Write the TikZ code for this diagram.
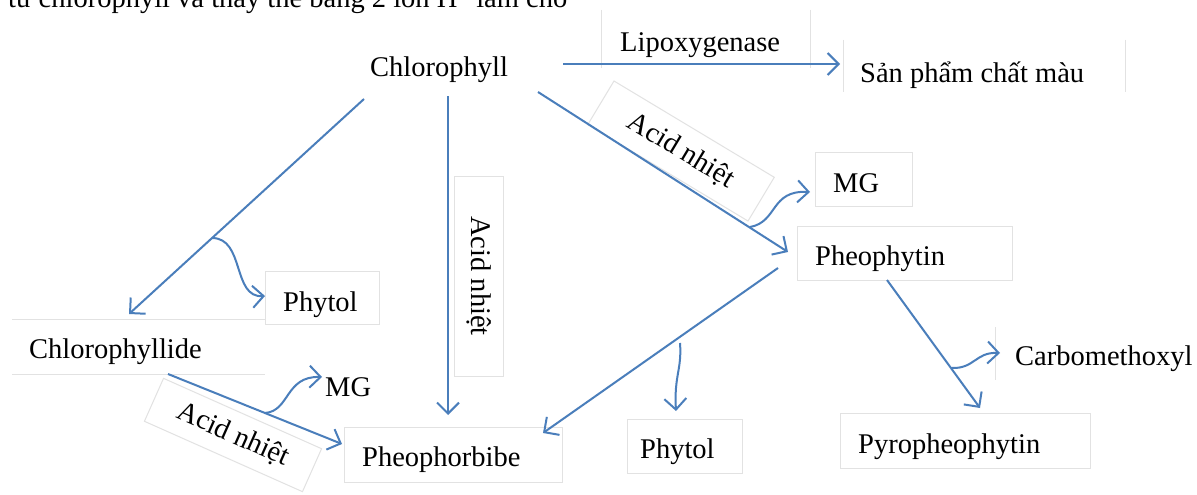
\documentclass[tikz,border=0pt]{standalone}
\usepackage{fontspec}
\setmainfont{Liberation Serif}
\usetikzlibrary{arrows.meta,calc}
\definecolor{arr}{HTML}{4A7EBB}
\definecolor{frame}{HTML}{E2E2E2}
\begin{document}
\begin{tikzpicture}[x=1pt,y=-1pt,
  lbl/.style={inner sep=0pt,font=\fontsize{28.5}{34}\selectfont},
  conn/.style={draw=arr,line width=2pt,-{Straight Barb[length=11pt,width=22pt]}},
  fr/.style={draw=frame,line width=1pt},
  rbox/.style={draw=frame,line width=1pt,inner sep=0pt,font=\fontsize{28.5}{34}\selectfont}]
\useasboundingbox (0,0) rectangle (1197,495);
\fill[white] (0,0) rectangle (1197,495);
% texts
\node[lbl,anchor=base west] (top) at (8,8) {từ chlorophyll và thay thế bằng 2 ion H\textsuperscript{+} làm cho};
\node[lbl,anchor=base west] (chl) at (370,77) {Chlorophyll};
\node[lbl,anchor=base west] (lipo) at (620,52) {Lipoxygenase};
\node[lbl,anchor=base west] (san) at (860,82) {Sản phẩm chất màu};
\node[lbl,anchor=base west] (mg1) at (833,192) {MG};
\node[lbl,anchor=base west] (pheo) at (815,265) {Pheophytin};
\node[lbl,anchor=base west] (phy1) at (283,311) {Phytol};
\node[lbl,anchor=base west] (chlide) at (29,358) {Chlorophyllide};
\node[lbl,anchor=base west] (mg2) at (325,396) {MG};
\node[lbl,anchor=base west] (carb) at (1015,365) {Carbomethoxyl};
\node[lbl,anchor=base west] (pbb) at (362,466) {Pheophorbibe};
\node[lbl,anchor=base west] (phy2) at (640,458) {Phytol};
\node[lbl,anchor=base west] (pyro) at (858,453) {Pyropheophytin};
% faint frames
\draw[fr] (601,10) -- (601,68) (810,10) -- (810,68);
\draw[fr] (843,40) -- (843,92) (1125,40) -- (1125,92);
\draw[fr] (815,152) rectangle (912,206);
\draw[fr] (797,226) rectangle (1012,280);
\draw[fr] (265,271) rectangle (379,324);
\draw[fr] (12,319) -- (265,319) (12,374) -- (265,374);
\draw[fr] (995,327) -- (995,380);
\draw[fr] (344,427) rectangle (562,482);
\draw[fr] (627,419) rectangle (742,473);
\draw[fr] (840,413) rectangle (1090,468);
% rotated labels
\node[rbox,rotate=-31,minimum width=187pt,minimum height=51pt] (acid1) at (681,151) {Acid nhiệt};
\node[rbox,rotate=-90,minimum width=200pt,minimum height=49pt] (acid2) at (479,276) {Acid nhiệt};
\node[rbox,rotate=-24,minimum width=173pt,minimum height=47pt] (acid3) at (233,435) {Acid nhiệt};
% connector end points
\coordinate (chlE) at (563,64);   \coordinate (sanW) at (840,64);
\coordinate (chlSE) at (538,92);  \coordinate (pheoNW) at (788,252);
\coordinate (chlS) at (448,96);   \coordinate (pbbN) at (448,415);
\coordinate (chlSW) at (364,99);  \coordinate (chlideN) at (129,314);
\coordinate (pheoSW) at (778,268); \coordinate (pbbNE) at (543,433);
\coordinate (chlideS) at (168,374); \coordinate (pbbW) at (342,444);
\coordinate (pheoS) at (887,280); \coordinate (pyroN) at (980,408);
\coordinate (b1s) at (212,238); \coordinate (phy1W) at (265,296);
\coordinate (b2s) at (750,227); \coordinate (mg1W) at (810,192);
\coordinate (b3s) at (265,413); \coordinate (mg2W) at (322,377);
\coordinate (b4s) at (951,368); \coordinate (carbW) at (1000,353);
\coordinate (b5s) at (680,343); \coordinate (phy2N) at (676,411);
% straight connectors
\draw[conn] (chlE) -- (sanW);
\draw[conn] (chlSE) -- (pheoNW);
\draw[conn] (chlS) -- (pbbN);
\draw[conn] (chlSW) -- (chlideN);
\draw[conn] (pheoSW) -- (pbbNE);
\draw[conn] (chlideS) -- (pbbW);
\draw[conn] (pheoS) -- (pyroN);
% curved side products
\draw[conn] (b1s) .. controls (245,238) and (232,298) .. (phy1W);
\draw[conn] (b2s) .. controls (778,222) and (770,190) .. (mg1W);
\draw[conn] (b3s) .. controls (290,411) and (285,376) .. (mg2W);
\draw[conn] (b4s) .. controls (975,369) and (975,352) .. (carbW);
\draw[conn] (b5s) .. controls (682,370) and (674,375) .. (phy2N);
\end{tikzpicture}
\end{document}
